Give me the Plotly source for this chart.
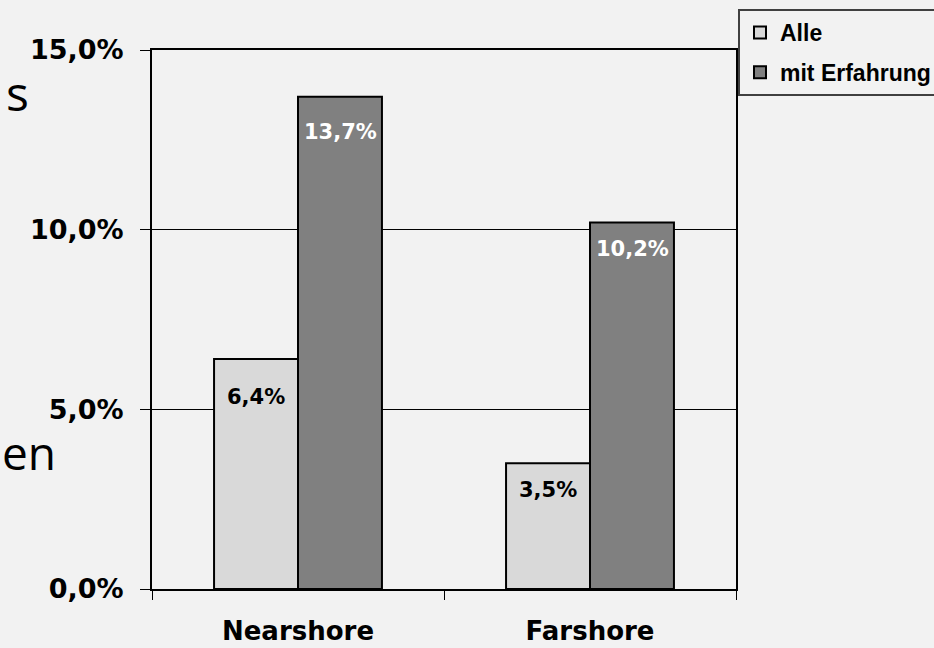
import plotly.graph_objects as go

# Shares by sourcing type, in percent
categories = ["Nearshore", "Farshore"]
series_names = ["Alle", "mit Erfahrung"]
alle_values = [6.4, 3.5]
erfahrung_values = [13.7, 10.2]
y_tick_values = [0, 5, 10, 15]
y_tick_labels = ["0,0%", "5,0%", "10,0%", "15,0%"]

series_values = [alle_values, erfahrung_values]
bar_colors = ["#d9d9d9", "#808080"]
label_colors = ["#000000", "#ffffff"]
# how far below the bar top each value label sits (px), per series
label_drop = [[38, 27], [35, 27]]

W, H = 934, 648
M_L, M_R, M_T, M_B = 152, 198, 50, 59
BAR_PX = 84
FONT = "DejaVu Sans"


def pct(v):
    return f"{v:.1f}%".replace(".", ",")


def px_to_paper(px, py):
    """Figure pixel position -> paper coordinates of the plot area."""
    pw, ph = W - M_L - M_R, H - M_T - M_B
    return (px - M_L) / pw, (H - M_B - py) / ph


fig = go.Figure()
for k, (name, vals, color) in enumerate(zip(series_names, series_values, bar_colors)):
    fig.add_trace(go.Bar(
        x=categories, y=vals, name=name, legendgroup=f"g{k}",
        marker=dict(color=color, line=dict(color="#000000", width=2)),
    ))

# value labels just inside the top of each bar
annotations = []
for s, (vals, tcol) in enumerate(zip(series_values, label_colors)):
    shift = (s - 0.5) * BAR_PX
    for i, (cat, v) in enumerate(zip(categories, vals)):
        annotations.append(dict(
            x=cat, y=v, xref="x", yref="y", text=pct(v), showarrow=False,
            xshift=shift, yshift=-label_drop[s][i],
            font=dict(family=FONT, size=21, color=tcol, weight="bold"),
        ))

# leftover slide text at the left edge
sx, sy = px_to_paper(4, 93)
annotations.append(dict(
    x=sx, y=sy, xref="paper", yref="paper", text="s",
    showarrow=False, xanchor="left", yanchor="middle",
    font=dict(family="Open Sans", size=48, color="#000000"),
))
ex, ey = px_to_paper(0, 452)
annotations.append(dict(
    x=ex, y=ey, xref="paper", yref="paper", text="en",
    showarrow=False, xanchor="left", yanchor="middle",
    font=dict(family="Open Sans", size=46, color="#000000"),
))

fig.update_layout(
    width=W, height=H,
    margin=dict(l=M_L, r=M_R, t=M_T, b=M_B, autoexpand=False),
    paper_bgcolor="#f2f2f2", plot_bgcolor="#f2f2f2",
    barmode="group", bargap=0.425, bargroupgap=0,
    font=dict(family=FONT, color="#000000"),
    annotations=annotations,
    showlegend=True,
    legend=dict(
        xref="container", yref="container",
        x=738 / W, y=1 - 9 / H, xanchor="left", yanchor="top",
        bgcolor="#f2f2f2", bordercolor="#404040", borderwidth=2,
        font=dict(family="Liberation Sans", size=23, color="#000000", weight="bold"),
        itemwidth=30, tracegroupgap=7,
    ),
    xaxis=dict(
        showgrid=False, showline=True, linecolor="#000000", linewidth=2,
        mirror=True, ticks="outside", ticklen=9, tickwidth=1, tickcolor="#000000",
        tickson="boundaries", ticklabelstandoff=18,
        tickfont=dict(family=FONT, size=26, weight="bold"),
    ),
    yaxis=dict(
        range=[0, 15], tickvals=y_tick_values, ticktext=y_tick_labels,
        showgrid=True, gridcolor="#000000", gridwidth=1,
        showline=True, linecolor="#000000", linewidth=2, mirror=True,
        ticks="outside", ticklen=10, tickwidth=1, tickcolor="#000000",
        ticklabelstandoff=11, zeroline=False,
        tickfont=dict(family=FONT, size=27, weight="bold"),
    ),
)

fig.write_html("out.html")
